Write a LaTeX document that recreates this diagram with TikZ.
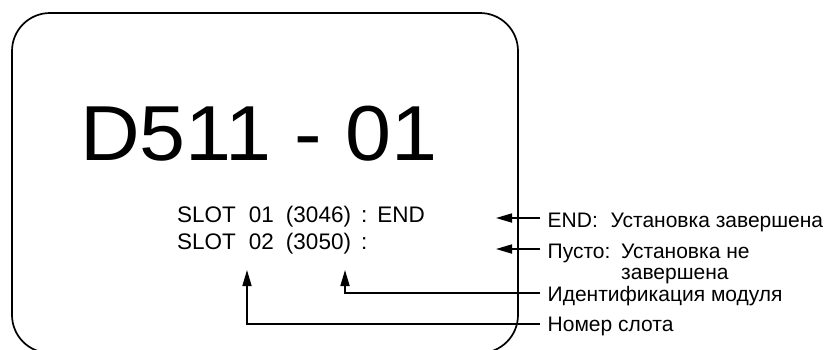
\documentclass[tikz,border=0pt]{standalone}
\usepackage{fontspec}
\setmainfont{Liberation Sans}
\usetikzlibrary{arrows.meta}
\begin{document}
\begin{tikzpicture}[x=1pt,y=-1pt,
  frame/.style={line width=1.7pt, rounded corners=38pt},
  conn/.style={line width=1.7pt, -{Triangle[length=16pt,width=9pt]}},
  lbl/.style={anchor=base west, inner sep=0pt, font=\fontsize{21}{22}\selectfont},
  slotline/.style={anchor=base west, inner sep=0pt, font=\fontsize{22.5}{24}\selectfont},
  titletext/.style={anchor=base west, inner sep=0pt, font=\fontsize{78}{80}\selectfont}]
\useasboundingbox (0,0) rectangle (829,349);
\draw[frame] (12,13) rectangle (518,353);
\node[titletext] (title) at (80,160) {\scalebox{1.06}[1]{D511 - 01}};
\node[slotline] (s1) at (177,222) {SLOT\hspace{13pt}01\hspace{12pt}(3046)\hspace{10pt}:\hspace{10pt}END};
\node[slotline] (s2) at (177,249) {SLOT\hspace{13pt}02\hspace{12pt}(3050)\hspace{10pt}:};
\node[lbl] (l1) at (547.5,227) {\makebox[63pt][l]{END:}Установка завершена};
\node[lbl] (l2) at (547.5,258) {\makebox[73.5pt][l]{Пусто:}Установка не};
\node[lbl] (l2b) at (621,279) {завершена};
\node[lbl] (l3) at (547.5,301) {Идентификация модуля};
\node[lbl] (l4) at (547.5,331) {Номер слота};
\coordinate (e1) at (540,218);
\coordinate (t1) at (496,218);
\coordinate (e2) at (540,249);
\coordinate (t2) at (496,249);
\coordinate (e3) at (540,293);
\coordinate (t3) at (345,270);
\coordinate (e4) at (540,324);
\coordinate (t4) at (247,270);
\draw[conn] (e1) -- (t1);
\draw[conn] (e2) -- (t2);
\draw[conn] (e3) -| (t3);
\draw[conn] (e4) -| (t4);
\end{tikzpicture}
\end{document}
